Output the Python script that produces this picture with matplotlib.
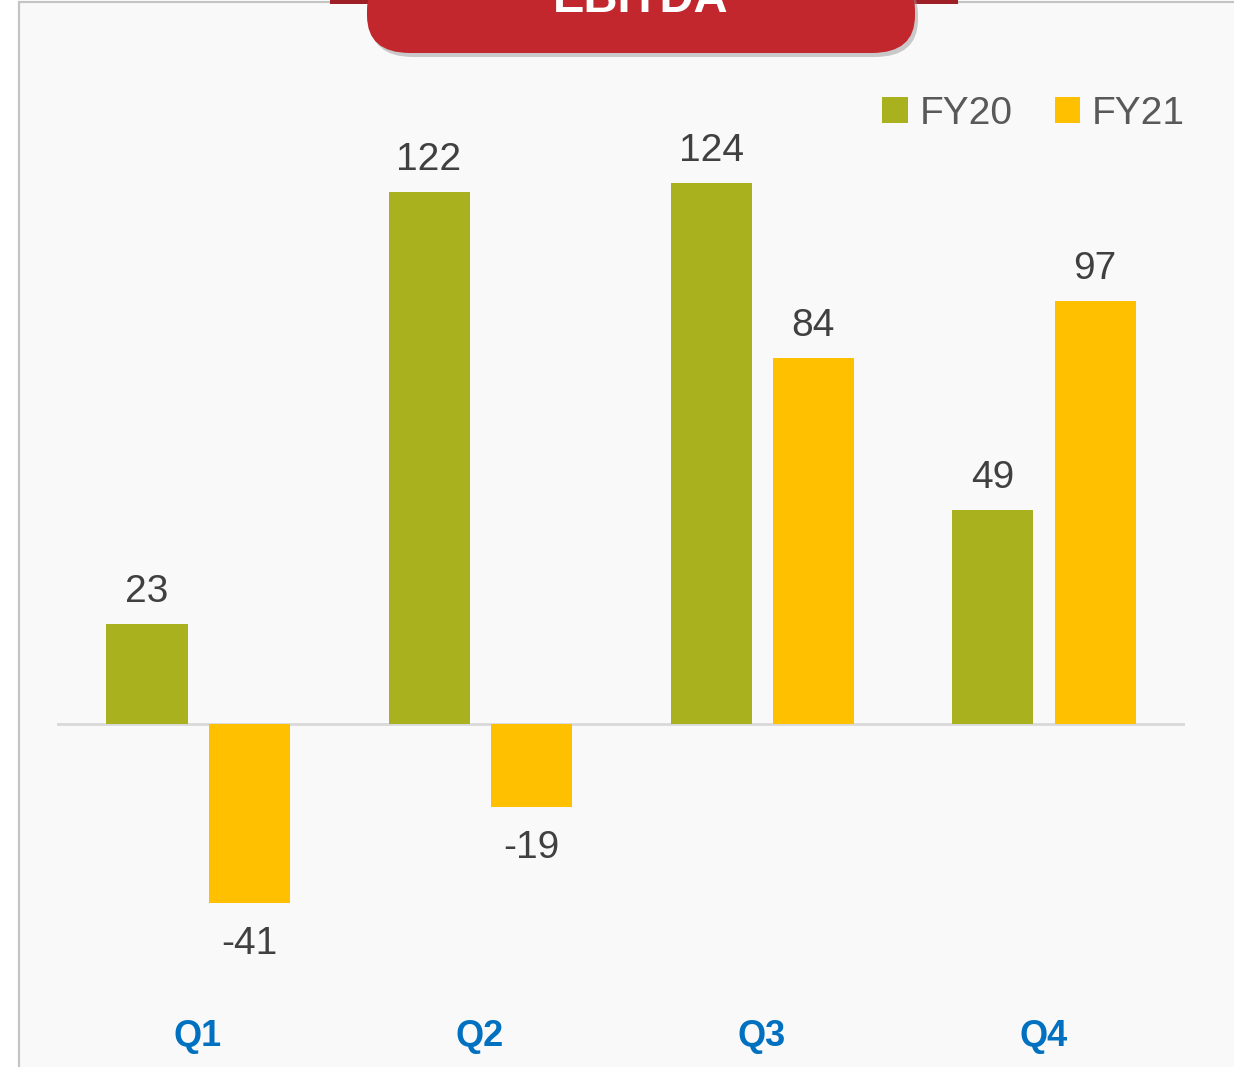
import matplotlib.pyplot as plt
from matplotlib.patches import FancyBboxPatch, Rectangle

# data
quarters = ["Q1", "Q2", "Q3", "Q4"]
fy20 = [23, 122, 124, 49]
fy21 = [-41, -19, 84, 97]
series_names = ["FY20", "FY21"]
title = "EBITDA"

W, H = 1234, 1067
green = "#A9B21E"
yellow = "#FFC000"
red = "#C1272D"

fig = plt.figure(figsize=(W / 100, H / 100), dpi=100)
fig.patch.set_facecolor("white")


def fx(px):
    return px / W


def fy(py):
    return 1 - py / H


# panel background with grey border
fig.patches.append(Rectangle((fx(19), fy(H + 10)), fx(W + 20), (H + 8) / H,
                             transform=fig.transFigure, facecolor="#f9f9f9",
                             edgecolor="#c4c4c4", linewidth=1.6, zorder=-5))

# axes: zero line at y=724, 4.36 px per unit
top_px, bot_px, zero_px, scale = 60, 1000, 724, 4.36
ax = fig.add_axes([fx(57), fy(bot_px), fx(1185 - 57), (bot_px - top_px) / H])
ax.set_zorder(1)
ax.set_facecolor("none")
ax.set_ylim(-(bot_px - zero_px) / scale, (zero_px - top_px) / scale)
ax.set_xlim(-0.5, len(quarters) - 0.5)

x = range(len(quarters))
width = 81 / 282
off = 51 / 282
b1 = ax.bar([i - off for i in x], fy20, width, color=green, label=series_names[0], zorder=2)
b2 = ax.bar([i + off for i in x], fy21, width, color=yellow, label=series_names[1], zorder=2)
ax.axhline(0, color="#d9d9d9", linewidth=2, zorder=1)

lab_font = dict(fontsize=28, color="#404040", family="Liberation Sans")
for bars, vals in ((b1, fy20), (b2, fy21)):
    for b, v in zip(bars, vals):
        cx = b.get_x() + b.get_width() / 2
        if v >= 0:
            ax.annotate(str(v), (cx, v), xytext=(0, 10), textcoords="offset points",
                        ha="center", va="bottom", **lab_font)
        else:
            ax.annotate(str(v), (cx, v), xytext=(0, -17), textcoords="offset points",
                        ha="center", va="top", **lab_font)

ax.set_xticks(list(x))
ax.set_xticklabels(quarters, fontsize=26, fontweight="bold", color="#0070C0",
                   family="Liberation Sans")
ax.tick_params(axis="x", length=0, pad=14)
ax.set_yticks([])
for s in ax.spines.values():
    s.set_visible(False)

leg = ax.legend(loc="center right", bbox_to_anchor=(1.0, 0.943), ncol=2, frameon=False,
                prop=dict(family="Liberation Sans", size=28), handlelength=0.65,
                handleheight=0.65, handletextpad=0.3, columnspacing=1.1,
                borderaxespad=0, borderpad=0)
for t in leg.get_texts():
    t.set_color("#595959")

# red banner with title
fig.patches.append(Rectangle((fx(330), fy(4)), fx(628), 8 / H, transform=fig.transFigure,
                             facecolor="#9E1F26", edgecolor="none", zorder=3))
fig.patches.append(FancyBboxPatch((fx(367 + 3), fy(57)), fx(548), 80 / H,
                                  boxstyle="round,pad=0,rounding_size=0.035",
                                  transform=fig.transFigure, facecolor="#9a9a9a",
                                  edgecolor="none", alpha=0.5, zorder=3))
fig.patches.append(FancyBboxPatch((fx(367), fy(53)), fx(548), 80 / H,
                                  boxstyle="round,pad=0,rounding_size=0.035",
                                  transform=fig.transFigure, facecolor=red,
                                  edgecolor="none", zorder=4))
fig.text(fx(641), fy(12), title, ha="center", va="baseline", fontsize=34,
         fontweight="bold", color="white", family="Liberation Sans", zorder=5)

fig.savefig("out.png", dpi=100)
